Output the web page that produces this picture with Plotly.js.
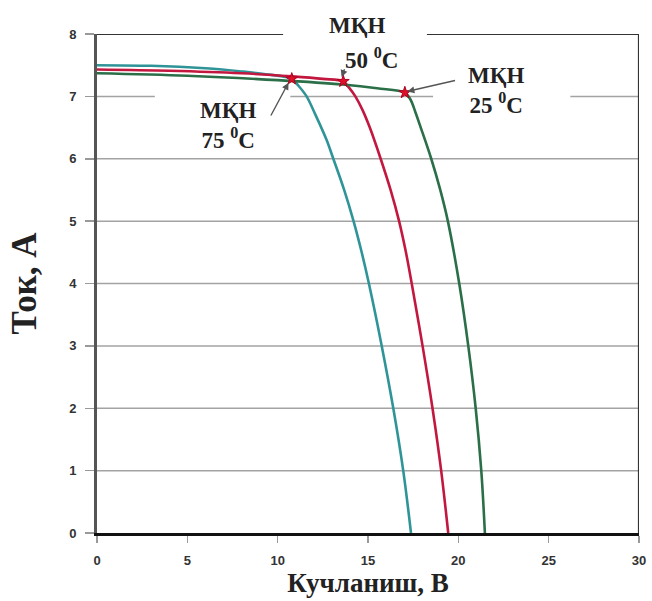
<!DOCTYPE html>
<html>
<head>
<meta charset="utf-8">
<script src="https://cdn.plot.ly/plotly-3.0.1.min.js"></script>
<style>html,body{margin:0;padding:0;background:#fff;}#chart{width:652px;height:601px;}</style>
</head>
<body>
<div id="chart"></div>
<script>
// I-V curves of a PV module at three temperatures
const v75 = [0, 3, 6, 8, 9.5, 10.78, 11.15, 11.6, 12.1, 12.71, 13.08, 13.68, 14.2, 14.65, 15.05, 15.76, 16.4, 16.95, 17.38];
const i75 = [7.50, 7.49, 7.45, 7.40, 7.35, 7.28, 7.17, 7.0, 6.7, 6.3, 6.0, 5.5, 5.0, 4.5, 4.0, 3.0, 2.0, 1.0, 0];

const v50 = [0, 4, 8, 10.8, 12.5, 13.63, 13.95, 14.3, 14.7, 15.1, 15.7, 16.25, 16.72, 17.1, 17.42, 18.02, 18.57, 19.05, 19.44];
const i50 = [7.43, 7.41, 7.37, 7.32, 7.28, 7.24, 7.14, 7.0, 6.78, 6.5, 6.0, 5.5, 5.0, 4.5, 4.0, 3.0, 2.0, 1.0, 0];

const v25 = [0, 5, 10, 13.6, 15.5, 17.04, 17.35, 17.62, 17.92, 18.5, 19.0, 19.42, 20.05, 20.55, 20.96, 21.27, 21.47];
const i25 = [7.37, 7.33, 7.26, 7.19, 7.13, 7.06, 6.95, 6.75, 6.5, 6.0, 5.5, 5.0, 4.0, 3.0, 2.0, 1.0, 0];

// maximum power points (МҚН)
const mppV = [10.78, 13.63, 17.04];
const mppI = [7.28, 7.24, 7.06];
const mppLabel = ["75 <sup>0</sup>C", "50 <sup>0</sup>C", "25 <sup>0</sup>C"];
const mppName = "МҚН";

const xTicks = [0, 5, 10, 15, 20, 25, 30];
const yTicks = [0, 1, 2, 3, 4, 5, 6, 7, 8];

const colTeal = '#2f9498', colRed = '#c2183f', colGreen = '#2a6f48';
const lineStyle = function (c) { return {color: c, width: 2.6, shape: 'spline', smoothing: 1}; };

const traces = [
  {x: v75, y: i75, mode: 'lines', line: lineStyle(colTeal), name: '75'},
  {x: v50, y: i50, mode: 'lines', line: lineStyle(colRed), name: '50'},
  {x: v25, y: i25, mode: 'lines', line: lineStyle(colGreen), name: '25'},
  {x: mppV, y: mppI, mode: 'markers', marker: {color: '#e0102a', symbol: 'star', size: 9, line: {color: '#b00020', width: 1}}, name: mppName}
];

const gridCol = '#a3a3a3';
const shapes = [];
[1, 2, 3, 4, 5, 6].forEach(function (g) {
  shapes.push({type: 'line', xref: 'x', yref: 'y', x0: 0, x1: 30, y0: g, y1: g, layer: 'below', line: {color: gridCol, width: 1.5}});
});
[[0, 3.2], [10.7, 18.6], [26.2, 30]].forEach(function (s) {
  shapes.push({type: 'line', xref: 'x', yref: 'y', x0: s[0], x1: s[1], y0: 7, y1: 7, layer: 'below', line: {color: gridCol, width: 1.5}});
});
// frame: top line with a gap, right side
[[0, 10.3], [18.26, 30]].forEach(function (s) {
  shapes.push({type: 'line', xref: 'x', yref: 'y', x0: s[0], x1: s[1], y0: 8, y1: 8, line: {color: '#333', width: 2.2}});
});
shapes.push({type: 'line', xref: 'x', yref: 'y', x0: 30, x1: 30, y0: 0, y1: 8, line: {color: '#333', width: 2.2}});

const tf = {family: 'Liberation Serif, Times New Roman, serif', size: 23, color: '#222', weight: 'bold'};
const arrowStyle = {text: '', showarrow: true, arrowhead: 2, arrowsize: 1, arrowwidth: 1.4, arrowcolor: '#555', axref: 'x', ayref: 'y'};
const annotations = [
  {x: 7.23, y: 6.53, text: mppName + '<br>' + mppLabel[0], showarrow: false, font: tf, align: 'center'},
  {xref: 'x', yref: 'paper', x: 14.39, y: 1.018, xanchor: 'center', yanchor: 'middle', text: mppName, showarrow: false, font: tf},
  {x: 15.22, y: 7.6, yanchor: 'middle', text: mppLabel[1], showarrow: false, font: tf},
  {x: 22.1, y: 7.09, text: mppName + '<br>' + mppLabel[2], showarrow: false, font: tf, align: 'center'},
  Object.assign({x: 10.6, y: 7.22, ax: 9.58, ay: 6.67}, arrowStyle),
  Object.assign({x: 13.54, y: 7.31, ax: 13.73, ay: 7.46}, arrowStyle),
  Object.assign({x: 17.18, y: 7.08, ax: 19.9, ay: 7.26}, arrowStyle)
];

const layout = {
  width: 652, height: 601,
  margin: {l: 97, r: 12.5, t: 34, b: 67.7},
  paper_bgcolor: '#fff', plot_bgcolor: '#fff',
  showlegend: false,
  xaxis: {
    range: [0, 30], tickvals: xTicks, ticktext: xTicks.map(String),
    showgrid: false, zeroline: false,
    showline: true, linecolor: '#111', linewidth: 3,
    ticks: 'outside', ticklen: 7, tickwidth: 1.5, tickcolor: '#999',
    ticklabelstandoff: 6,
    tickfont: {family: 'Liberation Sans, Arial, sans-serif', size: 13, color: '#333', weight: 'bold'},
    title: {text: 'Кучланиш, В', standoff: 2, font: {family: 'Liberation Serif, Times New Roman, serif', size: 27, color: '#222', weight: 'bold'}}
  },
  yaxis: {
    range: [0, 8], tickvals: yTicks, ticktext: yTicks.map(String),
    showgrid: false, zeroline: false,
    showline: true, linecolor: '#555', linewidth: 3,
    ticks: 'outside', ticklen: 9, tickwidth: 1.5, tickcolor: '#999',
    ticklabelstandoff: 6,
    tickfont: {family: 'Liberation Sans, Arial, sans-serif', size: 13, color: '#333', weight: 'bold'},
    title: {text: 'Ток, А', standoff: 22, font: {family: 'Liberation Serif, Times New Roman, serif', size: 35, color: '#222', weight: 'bold'}}
  },
  shapes: shapes,
  annotations: annotations
};

Plotly.newPlot('chart', traces, layout, {displayModeBar: false, staticPlot: true});
</script>
</body>
</html>
